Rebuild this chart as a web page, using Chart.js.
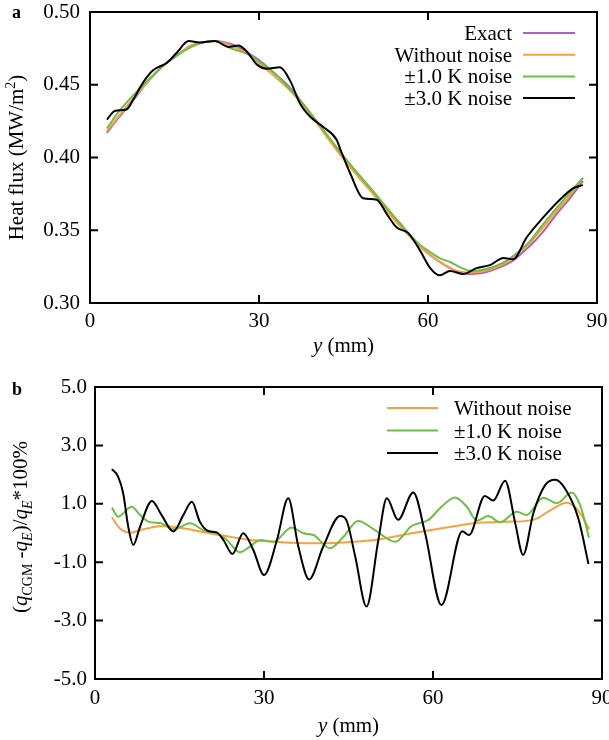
<!DOCTYPE html>
<html>
<head>
<meta charset="utf-8">
<script src="https://cdn.jsdelivr.net/npm/chart.js@4.4.0/dist/chart.umd.min.js"></script>
<style>
  html, body { margin: 0; padding: 0; background: #fff; overflow: hidden; }
  canvas { display: block; }
</style>
</head>
<body>
<canvas id="chartA" width="609" height="370"></canvas>
<canvas id="chartB" width="609" height="370"></canvas>
<script>
// ---- panel a: heat flux (MW/m2) vs y (mm) ----
const aXTicks = [0, 30, 60, 90];
const aYTicks = [0.30, 0.35, 0.40, 0.45, 0.50];

const aSmoothPos = [3, 5, 8, 10, 13, 15, 18, 20, 22, 25, 28, 30, 33, 35, 38, 40, 43, 45, 48, 50,
                    53, 55, 58, 60, 63, 65, 67, 70, 73, 75, 78, 80, 83, 85, 87.5];
const aExact     = [0.417, 0.427, 0.441, 0.451, 0.463, 0.469, 0.477, 0.479, 0.480, 0.478, 0.472, 0.467,
                    0.457, 0.450, 0.436, 0.426, 0.410, 0.400, 0.386, 0.377, 0.363, 0.354, 0.341, 0.334,
                    0.326, 0.322, 0.320, 0.321, 0.325, 0.329, 0.339, 0.347, 0.362, 0.371, 0.384];
const aNoNoise   = [0.418, 0.428, 0.442, 0.451, 0.463, 0.469, 0.477, 0.479, 0.480, 0.477, 0.471, 0.465,
                    0.455, 0.448, 0.435, 0.425, 0.409, 0.399, 0.385, 0.376, 0.362, 0.353, 0.341, 0.334,
                    0.326, 0.322, 0.321, 0.322, 0.326, 0.331, 0.341, 0.350, 0.364, 0.373, 0.386];

const aNoise1Pos = [3, 5, 7, 10, 13, 15, 18, 20, 22, 25, 28, 30, 33, 35, 38, 40, 43, 45, 48, 50,
                    53, 55, 58, 60, 62, 64, 66, 68, 70, 73, 75, 78, 80, 83, 85, 87.5];
const aNoise1    = [0.420, 0.431, 0.440, 0.452, 0.463, 0.469, 0.476, 0.479, 0.480, 0.475, 0.471, 0.466,
                    0.457, 0.449, 0.436, 0.426, 0.411, 0.401, 0.387, 0.378, 0.364, 0.355, 0.342, 0.336,
                    0.331, 0.328, 0.324, 0.322, 0.323, 0.327, 0.332, 0.342, 0.352, 0.366, 0.375, 0.386];

const aNoise3Pos = [3, 4.4, 6.5, 7.7, 9.5, 11.2, 13.6, 15.4, 17.5, 19.5, 22.2, 24.6, 26.3, 27.8, 29.6,
                    31.4, 33.7, 35.5, 37.3, 39.1, 41.4, 43.8, 44.4, 46.2, 48.5, 50.9, 52.7, 54.4, 56.5,
                    58.6, 60.4, 62.1, 63.9, 66.3, 68.6, 71.0, 73.4, 75.1, 77.5, 80.5, 83.4, 85.8, 87.5];
const aNoise3    = [0.426, 0.432, 0.433, 0.440, 0.452, 0.460, 0.465, 0.472, 0.480, 0.479, 0.480, 0.476,
                    0.477, 0.473, 0.464, 0.461, 0.462, 0.453, 0.437, 0.428, 0.421, 0.412, 0.406, 0.389,
                    0.372, 0.371, 0.361, 0.352, 0.348, 0.336, 0.324, 0.319, 0.322, 0.320, 0.324, 0.326,
                    0.331, 0.330, 0.345, 0.359, 0.371, 0.379, 0.381];

// ---- panel b: relative error (%) vs y (mm) ----
const bXTicks = [0, 30, 60, 90];
const bYTicks = [-5, -3, -1, 1, 3, 5];

const bNoNoisePos = [3, 4.4, 6.2, 8.6, 12.1, 15.7, 19.8, 24.6, 28.7, 34.6, 40.5, 45.3, 50.3, 56.2,
                     62.1, 68.0, 74.0, 77.8, 81.1, 83.7, 85.2, 86.7, 87.7];
const bNoNoise    = [0.54, 0.16, 0.01, 0.13, 0.24, 0.16, 0.01, -0.15, -0.26, -0.33, -0.35, -0.31,
                     -0.22, -0.01, 0.18, 0.35, 0.39, 0.45, 0.81, 1.04, 0.90, 0.50, 0.13];

const bNoise1Pos = [3, 4.1, 6.5, 8.0, 9.5, 11.8, 13.9, 16.9, 19.2, 21.6, 23.4, 25.7, 27.5, 29.3, 31.7,
                    34.9, 37.0, 38.8, 41.7, 44.1, 46.7, 49.7, 53.3, 56.2, 59.2, 61.5, 63.9, 66.0, 67.8,
                    69.8, 71.9, 74.9, 76.6, 79.6, 82.0, 84.6, 86.1, 87.7];
const bNoise1    = [0.87, 0.56, 0.90, 0.62, 0.39, 0.33, 0.13, 0.33, 0.10, -0.01, -0.24, -0.66, -0.47,
                    -0.24, -0.30, 0.19, -0.01, -0.07, -0.52, -0.13, 0.41, 0.10, -0.30, 0.24, 0.45, 0.90,
                    1.22, 0.90, 0.42, 0.58, 0.37, 0.73, 0.62, 1.21, 1.02, 1.39, 0.96, -0.16];

const bNoise3Pos = [3, 4.1, 5.0, 5.9, 6.8, 8.0, 10.1, 11.8, 13.9, 15.7, 17.2, 18.6, 20.1, 21.6, 22.8,
                    24.4, 26.3, 28.1, 30.0, 32.3, 34.3, 36.1, 38.0, 40.5, 43.5, 44.6, 46.2, 48.2, 50.3,
                    51.8, 53.8, 56.5, 58.6, 61.5, 65.2, 66.4, 69.2, 70.7, 72.8, 74.6, 76.0, 77.8, 79.9,
                    81.7, 83.4, 85.8, 87.6];
const bNoise3    = [2.19, 1.93, 1.36, 0.22, -0.41, 0.22, 1.10, 0.62, 0.05, 0.62, 1.07, 0.39, 0.07, 0.02,
                    -0.24, -0.72, -0.01, -0.58, -1.44, -0.24, 1.19, -0.47, -1.59, -0.47, 0.58, 0.45,
                    -0.81, -2.52, -0.24, 1.19, 0.45, 1.39, -0.01, -2.47, 0.06, -0.07, 1.27, 1.11, 1.79,
                    0.33, -0.75, 0.67, 1.64, 1.82, 1.53, 0.50, -1.06];

const PURPLE = '#ad60c1';
const ORANGE = '#f8a13c';
const GREEN  = '#6cbf43';
const BLACK  = '#000000';
const FONT = "'Liberation Serif', 'Times New Roman', serif";

function pts(xs, ys) { return xs.map((x, i) => ({ x: x, y: ys[i] })); }

function series(label, color, xs, ys, order) {
  return {
    label, order,
    data: pts(xs, ys),
    borderColor: color, backgroundColor: color,
    borderWidth: 2, pointRadius: 0,
    cubicInterpolationMode: 'monotone'
  };
}

// draw one piece of text after another, returns the advance
function runs(ctx, parts, x, y) {
  let cx = x;
  parts.forEach(p => {
    ctx.font = p.font;
    ctx.fillText(p.t, cx, y + (p.dy || 0));
    cx += ctx.measureText(p.t).width;
  });
  return cx - x;
}
function runsWidth(ctx, parts) {
  let w = 0;
  parts.forEach(p => { ctx.font = p.font; w += ctx.measureText(p.t).width; });
  return w;
}

// box, inward ticks, legend, axis titles
const framePlugin = {
  id: 'frame',
  afterDraw(chart, args, o) {
    const { ctx, chartArea: a, scales: { x, y } } = chart;
    ctx.save();
    ctx.strokeStyle = '#000';
    ctx.lineWidth = 2;
    ctx.strokeRect(a.left, a.top, a.right - a.left, a.bottom - a.top);
    ctx.beginPath();
    x.ticks.forEach(t => {
      const px = x.getPixelForValue(t.value);
      ctx.moveTo(px, a.bottom); ctx.lineTo(px, a.bottom - 8);
      ctx.moveTo(px, a.top); ctx.lineTo(px, a.top + 8);
    });
    y.ticks.forEach(t => {
      const py = y.getPixelForValue(t.value);
      ctx.moveTo(a.left, py); ctx.lineTo(a.left + 8, py);
      ctx.moveTo(a.right, py); ctx.lineTo(a.right - 8, py);
    });
    ctx.stroke();

    // legend
    const L = o.legend;
    ctx.font = '21px ' + FONT;
    ctx.fillStyle = '#000';
    ctx.textBaseline = 'alphabetic';
    ctx.textAlign = L.textAlign;
    chart.data.datasets.forEach((ds, i) => {
      const ry = L.top + i * L.step;
      ctx.fillText(ds.label, L.textX, ry + 7);
      ctx.strokeStyle = ds.borderColor;
      ctx.lineWidth = 2;
      ctx.beginPath();
      ctx.moveTo(L.x0, ry); ctx.lineTo(L.x1, ry);
      ctx.stroke();
    });

    // panel letter
    ctx.textAlign = 'left';
    ctx.font = 'bold 18px ' + FONT;
    ctx.fillText(o.letter, 12, o.letterY);

    // x title
    const xt = [{ t: 'y', font: 'italic 21px ' + FONT }, { t: ' (mm)', font: '21px ' + FONT }];
    const cx = (a.left + a.right) / 2;
    runs(ctx, xt, cx - runsWidth(ctx, xt) / 2, o.xTitleY);

    // y title, rotated
    const yt = o.yTitle;
    ctx.save();
    ctx.translate(o.yTitleX, (a.top + a.bottom) / 2 + o.yTitleShift);
    ctx.rotate(-Math.PI / 2);
    runs(ctx, yt, -runsWidth(ctx, yt) / 2, 0);
    ctx.restore();

    ctx.restore();
  }
};

function makeChart(id, datasets, xTicks, yTicks, yMin, yMax, digits, geo, frame) {
  return new Chart(document.getElementById(id), {
    type: 'line',
    data: { datasets },
    plugins: [framePlugin],
    options: {
      responsive: false,
      animation: false,
      events: [],
      layout: { padding: { top: geo.top, right: geo.right, left: 0, bottom: 0 } },
      plugins: { legend: { display: false }, tooltip: { enabled: false }, frame },
      scales: {
        x: {
          type: 'linear', min: 0, max: 90,
          afterBuildTicks: s => { s.ticks = xTicks.map(v => ({ value: v })); },
          afterFit: s => { s.height = geo.xh; s.paddingLeft = 0; s.paddingRight = 0; },
          grid: { display: false, drawTicks: false },
          border: { display: false },
          ticks: { font: { family: FONT, size: 21 }, color: '#000', padding: geo.xpad, maxRotation: 0,
                   autoSkip: false, callback: v => String(v) }
        },
        y: {
          type: 'linear', min: yMin, max: yMax,
          afterBuildTicks: s => { s.ticks = yTicks.map(v => ({ value: v })); },
          afterFit: s => { s.width = geo.yw; s.paddingTop = 0; s.paddingBottom = 0; },
          grid: { display: false, drawTicks: false },
          border: { display: false },
          ticks: { font: { family: FONT, size: 21 }, color: '#000', padding: geo.ypad,
                   autoSkip: false, callback: v => Number(v).toFixed(digits) }
        }
      }
    }
  });
}

const R = '21px ' + FONT, RI = 'italic 21px ' + FONT;
const S = '14px ' + FONT, SI = 'italic 14px ' + FONT;

makeChart('chartA', [
  series('Exact', PURPLE, aSmoothPos, aExact, 3),
  series('Without noise', ORANGE, aSmoothPos, aNoNoise, 2),
  series('\u00b11.0 K noise', GREEN, aNoise1Pos, aNoise1, 1),
  series('\u00b13.0 K noise', BLACK, aNoise3Pos, aNoise3, 0)
], aXTicks, aYTicks, 0.30, 0.50, 2,
  { top: 12, right: 12, xh: 67, yw: 90, xpad: 6, ypad: 10 },
  {
    legend: { textAlign: 'right', textX: 512, x0: 523, x1: 575, top: 33, step: 21.7 },
    letter: 'a', letterY: 18,
    xTitleY: 352,
    yTitleX: 23, yTitleShift: 0,
    yTitle: [{ t: 'Heat flux (MW/m', font: R }, { t: '2', font: S, dy: -8 }, { t: ')', font: R }]
  });

makeChart('chartB', [
  series('Without noise', ORANGE, bNoNoisePos, bNoNoise, 2),
  series('\u00b11.0 K noise', GREEN, bNoise1Pos, bNoise1, 1),
  series('\u00b13.0 K noise', BLACK, bNoise3Pos, bNoise3, 0)
], bXTicks, bYTicks, -5, 5, 1,
  { top: 17, right: 7, xh: 61, yw: 95, xpad: 7, ypad: 8 },
  {
    legend: { textAlign: 'left', textX: 454, x0: 387, x1: 438, top: 38, step: 22.5 },
    letter: 'b', letterY: 25,
    xTitleY: 362,
    yTitleX: 27, yTitleShift: -6,
    yTitle: [
      { t: '(', font: R }, { t: 'q', font: RI }, { t: 'CGM', font: S, dy: 5 },
      { t: ' -', font: R }, { t: 'q', font: RI }, { t: 'E', font: SI, dy: 5 },
      { t: ')/', font: R }, { t: 'q', font: RI }, { t: 'E', font: SI, dy: 5 },
      { t: '*100%', font: R }
    ]
  });
</script>
</body>
</html>
